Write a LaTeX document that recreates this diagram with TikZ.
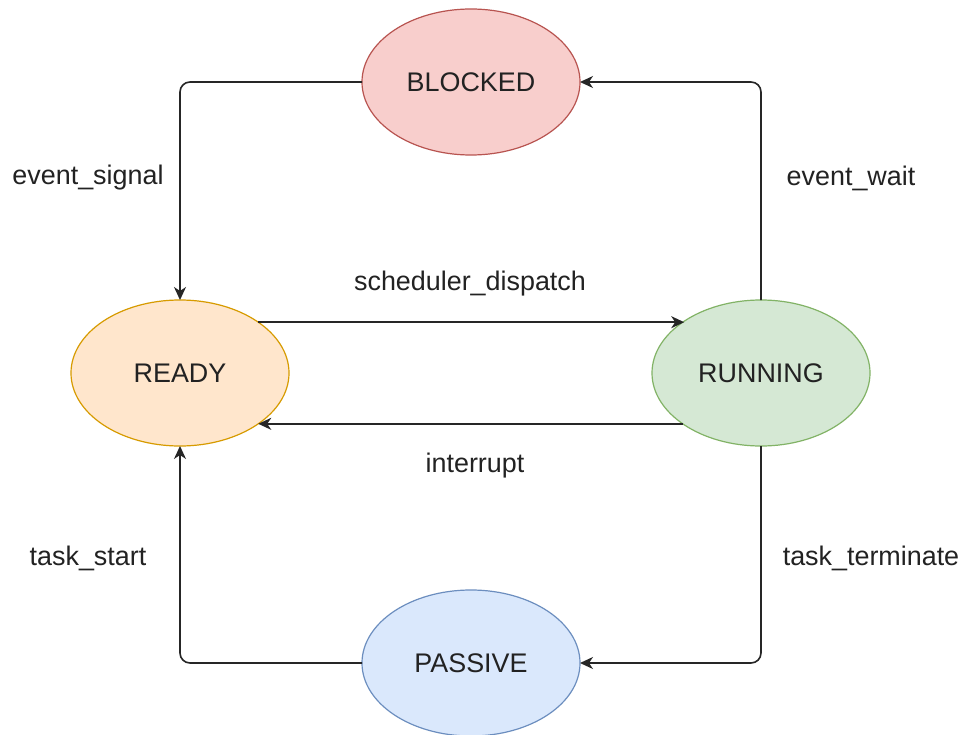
\documentclass[tikz,border=0pt]{standalone}
\usepackage{fontspec}
\setmainfont{Liberation Sans}
\usetikzlibrary{shapes.geometric,arrows.meta}
\definecolor{blkfill}{HTML}{F8CECC}\definecolor{blkdraw}{HTML}{B85450}
\definecolor{rdyfill}{HTML}{FFE6CC}\definecolor{rdydraw}{HTML}{D79B00}
\definecolor{runfill}{HTML}{D5E8D4}\definecolor{rundraw}{HTML}{82B366}
\definecolor{pasfill}{HTML}{DAE8FC}\definecolor{pasdraw}{HTML}{6C8EBF}
\definecolor{txt}{HTML}{222222}
\tikzset{
  state/.style={ellipse, minimum width=218bp, minimum height=146bp, inner sep=0pt, outer sep=0pt,
    line width=1.2bp, font=\fontsize{27}{32}\selectfont, text=txt},
  edge/.style={line width=1.6bp, draw=black!85, rounded corners=10bp,
    -{Stealth[length=13bp,width=12bp,inset=4bp]}},
  lbl/.style={font=\fontsize{27}{32}\selectfont, text=txt, inner sep=0pt}
}
\begin{document}
\begin{tikzpicture}[x=1bp,y=-1bp]
\useasboundingbox[fill=white] (0,0) rectangle (963,735);
\node[state, fill=blkfill, draw=blkdraw] (BLOCKED) at (471,82) {BLOCKED};
\node[state, fill=rdyfill, draw=rdydraw] (READY) at (180,373) {READY};
\node[state, fill=runfill, draw=rundraw] (RUNNING) at (761,373) {RUNNING};
\node[state, fill=pasfill, draw=pasdraw] (PASSIVE) at (471,663) {PASSIVE};

\draw[edge] (BLOCKED.west) -| (READY.north);
\draw[edge] (RUNNING.north) |- (BLOCKED.east);
\draw[edge] (READY.33.1) -- (READY.33.1 -| RUNNING.146.9);
\draw[edge] (RUNNING.213.1) -- (RUNNING.213.1 -| READY.-33.1);
\draw[edge] (RUNNING.south) |- (PASSIVE.east);
\draw[edge] (PASSIVE.west) -| (READY.south);

\node[lbl] (l1) at (88,178) {event\_signal};
\node[lbl] (l2) at (851,178) {event\_wait};
\node[lbl] (l3) at (470,284) {scheduler\_dispatch};
\node[lbl] (l4) at (475,466) {interrupt};
\node[lbl] (l5) at (88,558) {task\_start};
\node[lbl] (l6) at (871,558) {task\_terminate};
\end{tikzpicture}
\end{document}
